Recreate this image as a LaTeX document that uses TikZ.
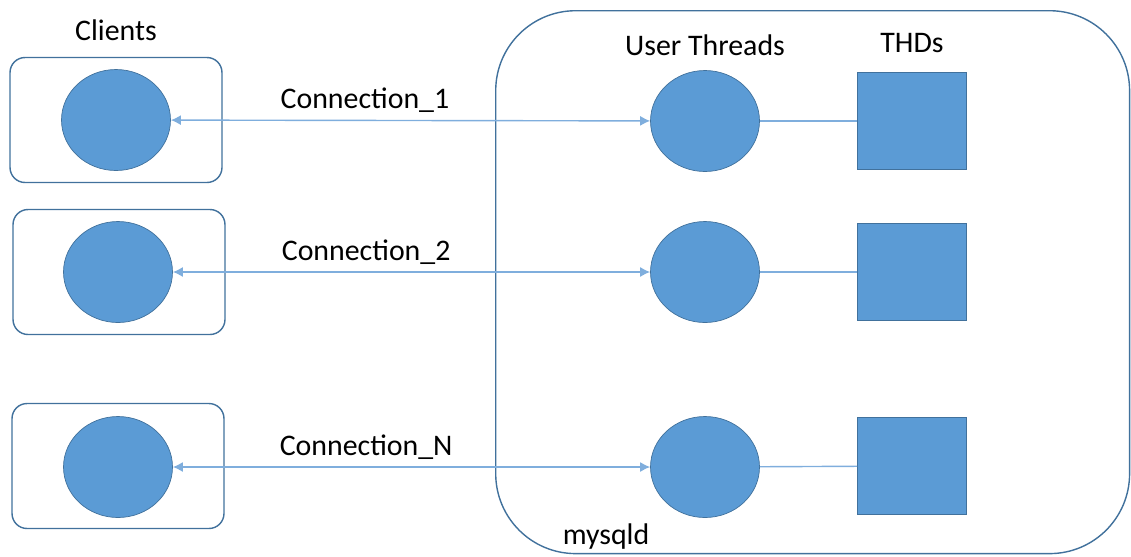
\documentclass[tikz,border=0pt]{standalone}
\usepackage{fontspec}
\setmainfont{Carlito}
\usetikzlibrary{arrows.meta, positioning, shapes.geometric}
\definecolor{fillblue}{HTML}{5B9BD5}
\definecolor{edgeblue}{HTML}{41719C}
\definecolor{wireblue}{HTML}{7FAEDD}

\begin{document}
\begin{tikzpicture}[x=0.02cm, y=-0.02cm, every node/.style={font=\fontsize{17}{20}\selectfont}]
    \useasboundingbox (0,0) rectangle (1131,556);
    % server process
    \node[draw=edgeblue, line width=0.8pt, rounded corners=1.6cm, minimum width=12.68cm, minimum height=10.86cm, anchor=north west] (srv) at (495,10) {};
    \node (srvlbl) at (606,537) {mysqld};
    % client boxes
    \node[draw=edgeblue, line width=0.8pt, rounded corners=0.3cm, minimum width=4.24cm, minimum height=2.5cm] (box1) at (116,120) {};
    \node[draw=edgeblue, line width=0.8pt, rounded corners=0.3cm, minimum width=4.24cm, minimum height=2.5cm] (box2) at (119,272) {};
    \node[draw=edgeblue, line width=0.8pt, rounded corners=0.3cm, minimum width=4.24cm, minimum height=2.5cm] (box3) at (118,466) {};
    \node[above=0.2cm of box1] (clients) {Clients};
    \node[ellipse, draw=edgeblue, fill=fillblue, inner sep=0pt, minimum width=2.18cm, minimum height=2.02cm] (c1) at (116,120) {};
    \node[ellipse, draw=edgeblue, fill=fillblue, inner sep=0pt, minimum width=2.18cm, minimum height=2.02cm] (c2) at (118,272) {};
    \node[ellipse, draw=edgeblue, fill=fillblue, inner sep=0pt, minimum width=2.18cm, minimum height=2.02cm] (c3) at (118,467) {};
    % user threads
    \node[ellipse, draw=edgeblue, fill=fillblue, inner sep=0pt, minimum width=2.18cm, minimum height=2.02cm] (u1) at (705,121) {};
    \node[ellipse, draw=edgeblue, fill=fillblue, inner sep=0pt, minimum width=2.18cm, minimum height=2.02cm] (u2) at (705,272) {};
    \node[ellipse, draw=edgeblue, fill=fillblue, inner sep=0pt, minimum width=2.18cm, minimum height=2.02cm] (u3) at (705,467) {};
    \node (utlbl) at (705,45) {User Threads};
    % THD objects
    \node[draw=edgeblue, fill=fillblue, inner sep=0pt, minimum width=2.18cm, minimum height=1.94cm] (t1) at (912,121) {};
    \node[draw=edgeblue, fill=fillblue, inner sep=0pt, minimum width=2.18cm, minimum height=1.94cm] (t2) at (912,272) {};
    \node[draw=edgeblue, fill=fillblue, inner sep=0pt, minimum width=2.18cm, minimum height=1.94cm] (t3) at (912,466) {};
    \node (thdlbl) at (912,43) {THDs};
    % connections
    \draw[{Latex[length=2mm,width=2mm]}-{Latex[length=2mm,width=2mm]}, line width=0.8pt, wireblue] (c1)--(u1) node[pos=0.405, above=0.02cm, black] (con1) {Connection\_1};
    \draw[{Latex[length=2mm,width=2mm]}-{Latex[length=2mm,width=2mm]}, line width=0.8pt, wireblue] (c2)--(u2) node[pos=0.405, above=0.02cm, black] (con2) {Connection\_2};
    \draw[{Latex[length=2mm,width=2mm]}-{Latex[length=2mm,width=2mm]}, line width=0.8pt, wireblue] (c3)--(u3) node[pos=0.405, above=0.02cm, black] (con3) {Connection\_N};
    \draw[line width=0.8pt, wireblue] (u1)--(t1);
    \draw[line width=0.8pt, wireblue] (u2)--(t2);
    \draw[line width=0.8pt, wireblue] (u3)--(t3);
  \end{tikzpicture}
\end{document}
